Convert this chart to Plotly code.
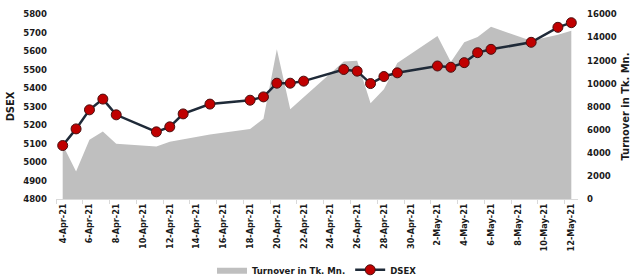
import plotly.graph_objects as go

dates = ['2021-04-04', '2021-04-05', '2021-04-06', '2021-04-07', '2021-04-08',
         '2021-04-11', '2021-04-12', '2021-04-13', '2021-04-15', '2021-04-18',
         '2021-04-19', '2021-04-20', '2021-04-21', '2021-04-22', '2021-04-25',
         '2021-04-26', '2021-04-27', '2021-04-28', '2021-04-29', '2021-05-02',
         '2021-05-03', '2021-05-04', '2021-05-05', '2021-05-06', '2021-05-09',
         '2021-05-11', '2021-05-12']
dsex = [5089, 5179, 5282, 5340, 5255, 5163, 5190, 5260, 5313, 5334, 5352, 5426,
        5426, 5437, 5500, 5491, 5424, 5462, 5482, 5519, 5512, 5537, 5591, 5609,
        5647, 5728, 5753]
turnover = [4690, 2380, 5120, 5840, 4775, 4545, 4950, 5180, 5580, 6045, 6935,
            12950, 7770, 8790, 11900, 11950, 8290, 9500, 11770, 14100, 11840,
            13560, 14010, 14900, 13680, 14200, 14560]

tick_dates = ['2021-04-04', '2021-04-06', '2021-04-08', '2021-04-10', '2021-04-12',
              '2021-04-14', '2021-04-16', '2021-04-18', '2021-04-20', '2021-04-22',
              '2021-04-24', '2021-04-26', '2021-04-28', '2021-04-30', '2021-05-02',
              '2021-05-04', '2021-05-06', '2021-05-08', '2021-05-10', '2021-05-12']
tick_text = ['4-Apr-21', '6-Apr-21', '8-Apr-21', '10-Apr-21', '12-Apr-21',
             '14-Apr-21', '16-Apr-21', '18-Apr-21', '20-Apr-21', '22-Apr-21',
             '24-Apr-21', '26-Apr-21', '28-Apr-21', '30-Apr-21', '2-May-21',
             '4-May-21', '6-May-21', '8-May-21', '10-May-21', '12-May-21']
boundary_ticks = ['2021-04-03 12:00', '2021-04-05 12:00', '2021-04-07 12:00',
                  '2021-04-09 12:00', '2021-04-11 12:00', '2021-04-13 12:00',
                  '2021-04-15 12:00', '2021-04-17 12:00', '2021-04-19 12:00',
                  '2021-04-21 12:00', '2021-04-23 12:00', '2021-04-25 12:00',
                  '2021-04-27 12:00', '2021-04-29 12:00', '2021-05-01 12:00',
                  '2021-05-03 12:00', '2021-05-05 12:00', '2021-05-07 12:00',
                  '2021-05-09 12:00', '2021-05-11 12:00']

FONT = "DejaVu Sans Condensed, Liberation Sans Narrow, Arial Narrow, sans-serif"
TXT = "#1a1a1a"

fig = go.Figure()
fig.add_trace(go.Scatter(
    x=dates, y=turnover, name="Turnover in Tk. Mn.", mode="lines",
    line=dict(width=0, color="#bfbfbf"), fill="tozeroy", fillcolor="#bfbfbf",
    yaxis="y"))
fig.add_trace(go.Scatter(
    x=dates, y=dsex, name="DSEX", mode="lines+markers",
    line=dict(color="#1f2a38", width=2.5),
    marker=dict(size=10, color="#c00000", line=dict(color="#4a1010", width=1)),
    yaxis="y2"))

fig.update_layout(
    width=632, height=279,
    margin=dict(l=56, r=54, t=14, b=80, autoexpand=False),
    paper_bgcolor="white", plot_bgcolor="white",
    font=dict(family=FONT, color=TXT, size=9.5, weight="bold"),
    showlegend=True,
    legend=dict(orientation="h", x=0.5, xanchor="center",
                yref="container", y=0.033, yanchor="middle",
                bgcolor="rgba(0,0,0,0)",
                font=dict(size=9.5, family=FONT, weight="bold"),
                itemwidth=30, traceorder="normal"),
    xaxis=dict(
        type="date", range=['2021-04-03 12:00', '2021-05-12 12:00'],
        automargin=False,
        tickmode="array", tickvals=tick_dates, ticktext=tick_text,
        tickangle=-90, ticks="", ticklen=0,
        tickfont=dict(size=9, family=FONT, weight="bold", color=TXT),
        showline=True, linecolor="#d9d9d9", linewidth=1,
        showgrid=False, zeroline=False,
        minor=dict(tickmode="array", tickvals=boundary_ticks, ticks="outside",
                   ticklen=4, tickcolor="#d9d9d9", tickwidth=1, showgrid=False),
    ),
    yaxis=dict(
        side="right", range=[0, 16000], dtick=2000, tick0=0, tickformat="d",
        automargin=False,
        showgrid=False, zeroline=False, showline=False,
        tickfont=dict(size=9.5, family=FONT, weight="bold", color=TXT),
        ticklabelstandoff=8,
        title=dict(text="Turnover in Tk. Mn.", standoff=12,
                   font=dict(size=11, family=FONT, weight="bold", color=TXT)),
    ),
    yaxis2=dict(
        overlaying="y", side="left", range=[4800, 5800], dtick=100, tick0=4800,
        automargin=False,
        showgrid=False, zeroline=False, showline=False,
        tickfont=dict(size=9.5, family=FONT, weight="bold", color=TXT),
        ticklabelstandoff=8,
        title=dict(text="DSEX", standoff=6,
                   font=dict(size=11, family=FONT, weight="bold", color=TXT)),
    ),
)

fig.write_html("out.html", config={"displayModeBar": False},
               post_script="document.body.style.margin='0';")
